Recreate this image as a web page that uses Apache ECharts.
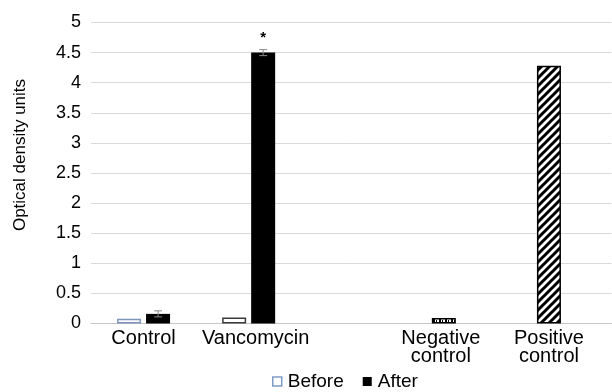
<!DOCTYPE html>
<html>
<head>
<meta charset="utf-8">
<script src="https://cdn.jsdelivr.net/npm/echarts@6/dist/echarts.min.js"></script>
<style>
html,body{margin:0;padding:0;background:#fff;}
#chart{width:612px;height:392px;}
</style>
</head>
<body>
<div id="chart"></div>
<script>
// ---- data ----
const categories = ['Control', 'Vancomycin', 'Negative\ncontrol', 'Positive\ncontrol'];
const beforeValues = [0.08, 0.10, null, null];
const afterValues = [0.16, 4.50, null, null];
const afterErrors = [0.05, 0.05, null, null];
const controlValues = [null, null, 0.09, 4.28];
const significance = ['', '*', '', ''];
const yTicks = [0, 0.5, 1, 1.5, 2, 2.5, 3, 3.5, 4, 4.5, 5];

// ---- layout (non-data) ----
const SLOTS = 104;
const slotOf = [10, 31, 70, 91];
const labelShift = [0, 14, -6, 0];
const BAR_W = 24;
const GAP_PX = 5;
const beforeBorders = ['#7d95bb', '#3a3a3a'];

const labelAt = {};
const axisCats = Array.from({length: SLOTS}, (_, i) => ({value: 's' + i}));
slotOf.forEach((s, i) => {
  labelAt[s] = categories[i];
  const sh = labelShift[i];
  axisCats[s] = {value: 's' + s, textStyle: {padding: sh >= 0 ? [0, 0, 0, sh] : [0, -sh, 0, 0]}};
});

function makePattern(kind) {
  const c = document.createElement('canvas');
  const ctx = c.getContext('2d');
  if (kind === 'hatch') {
    c.width = 8; c.height = 8;
    ctx.fillStyle = '#fff'; ctx.fillRect(0, 0, 8, 8);
    ctx.strokeStyle = '#000'; ctx.lineWidth = 3;
    ctx.beginPath();
    ctx.moveTo(-2, 10); ctx.lineTo(10, -2);
    ctx.moveTo(-6, 6); ctx.lineTo(6, -6);
    ctx.moveTo(2, 14); ctx.lineTo(14, 2);
    ctx.stroke();
  } else {
    c.width = 6; c.height = 6;
    ctx.fillStyle = '#fff'; ctx.fillRect(0, 0, 6, 6);
    ctx.fillStyle = '#000';
    ctx.fillRect(1, 1, 2, 3);
    ctx.fillRect(4, 2, 1, 2);
  }
  return {image: c, repeat: 'repeat'};
}
const hatch = makePattern('hatch');
const dots = makePattern('dots');

const beforeData = [], afterData = [], controlData = [], errData = [];
categories.forEach((_, i) => {
  if (beforeValues[i] != null) beforeData.push({value: [slotOf[i], beforeValues[i]], itemStyle: {borderColor: beforeBorders[i]}});
  if (afterValues[i] != null) afterData.push([slotOf[i], afterValues[i]]);
  if (afterErrors[i] != null) errData.push([slotOf[i], afterValues[i], afterErrors[i], i]);
  if (controlValues[i] != null) controlData.push({value: [slotOf[i], controlValues[i]], itemStyle: {color: i === 3 ? hatch : dots}});
});

const chart = echarts.init(document.getElementById('chart'), null, {renderer: 'canvas'});
const FONT = 'Liberation Sans, Arial, Helvetica, sans-serif';

chart.setOption({
  animation: false,
  backgroundColor: '#fff',
  textStyle: {fontFamily: FONT},
  grid: {left: 91, right: 0, top: 22.5, bottom: 68.5, containLabel: false},
  legend: {
    left: 272, top: 372, padding: 0,
    itemWidth: 9, itemHeight: 9, itemGap: 19,
    icon: 'rect',
    textStyle: {fontSize: 19, color: '#000', fontFamily: FONT, padding: [0, 0, 0, 1]},
    data: [
      {name: 'Before', itemStyle: {color: '#fff', borderColor: '#7d9cc6', borderWidth: 1.5}},
      {name: 'After', itemStyle: {color: '#000'}}
    ]
  },
  xAxis: [{
    type: 'category',
    data: axisCats,
    axisLine: {show: true, lineStyle: {color: '#c6c6c6', width: 1}},
    axisTick: {show: false},
    splitLine: {show: false},
    axisLabel: {
      interval: 0, margin: 6, fontSize: 20, lineHeight: 18, color: '#000', fontFamily: FONT,
      formatter: (v, idx) => labelAt[idx] || ''
    }
  }, {
    type: 'category',
    data: axisCats.map(d => d.value),
    show: false
  }],
  yAxis: {
    type: 'value',
    min: yTicks[0], max: yTicks[yTicks.length - 1], interval: yTicks[1] - yTicks[0],
    name: 'Optical density units',
    nameLocation: 'middle',
    nameGap: 62,
    nameTextStyle: {fontSize: 17, color: '#000', fontFamily: FONT, padding: [0, 0, 0, 36]},
    axisLine: {show: false},
    axisTick: {show: false},
    splitLine: {lineStyle: {color: '#d9d9d9', width: 1}},
    axisLabel: {fontSize: 18, color: '#000', margin: 10, fontFamily: FONT}
  },
  series: [{
    name: 'Before', type: 'bar', xAxisIndex: 0,
    barWidth: BAR_W, barGap: (GAP_PX / BAR_W * 100) + '%',
    itemStyle: {color: '#fff', borderColor: '#3a3a3a', borderWidth: 1.5},
    data: beforeData
  }, {
    name: 'After', type: 'bar', xAxisIndex: 0,
    barWidth: BAR_W, barGap: (GAP_PX / BAR_W * 100) + '%',
    itemStyle: {color: '#000', borderColor: '#000', borderWidth: 0},
    data: afterData
  }, {
    name: 'Controls', type: 'bar', xAxisIndex: 1,
    barWidth: BAR_W,
    itemStyle: {borderColor: '#000', borderWidth: 1.5},
    data: controlData
  }, {
    name: 'err', type: 'custom', xAxisIndex: 0,
    z: 10,
    renderItem: function (params, api) {
      const x = api.coord([api.value(0), 0])[0] + (BAR_W + GAP_PX) / 2;
      const v = api.value(1), e = api.value(2);
      const yTop = api.coord([api.value(0), v + e])[1];
      const yBot = api.coord([api.value(0), v - e])[1];
      const cap = 4;
      const children = [
        {type: 'line', shape: {x1: x, y1: yTop, x2: x, y2: yBot}, style: {stroke: '#8a8a8a', lineWidth: 1}},
        {type: 'line', shape: {x1: x - cap, y1: yTop, x2: x + cap, y2: yTop}, style: {stroke: '#8a8a8a', lineWidth: 1}},
        {type: 'line', shape: {x1: x - cap, y1: yBot, x2: x + cap, y2: yBot}, style: {stroke: '#8a8a8a', lineWidth: 1}}
      ];
      const sig = significance[api.value(3)];
      if (sig) {
        children.push({type: 'text', style: {text: sig, x: x, y: yTop - 4, align: 'center', verticalAlign: 'bottom', fontSize: 15, fontWeight: 'bold', fill: '#000', fontFamily: FONT}});
      }
      return {type: 'group', children: children};
    },
    data: errData
  }]
});
</script>
</body>
</html>
